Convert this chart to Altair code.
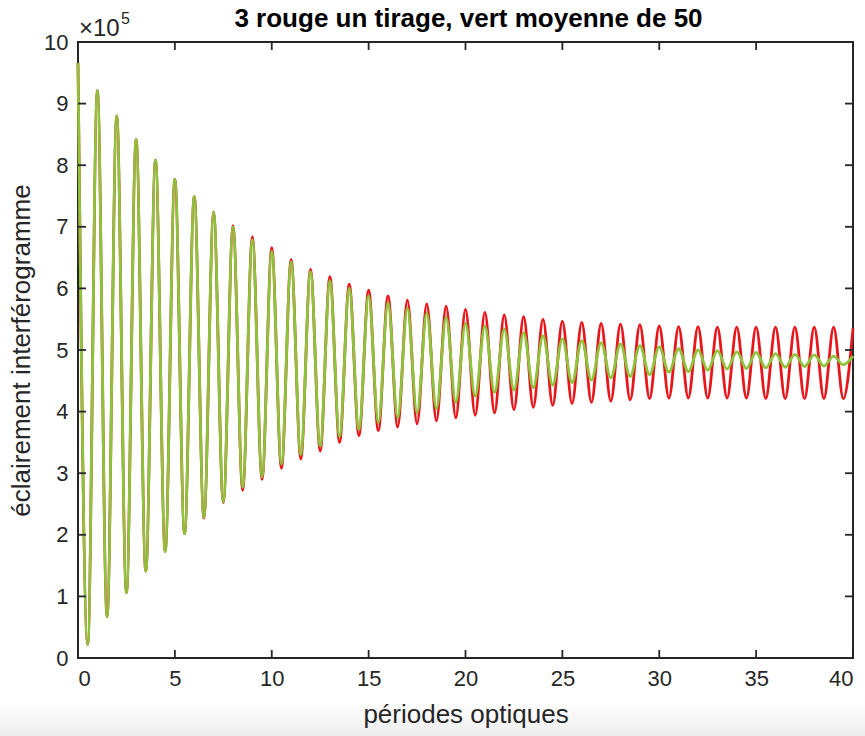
import altair as alt
import pandas as pd

# ---- data (values in units of 1e5) ----
peak_x = list(range(0, 41))
trough_x = [i + 0.5 for i in range(0, 40)]

red_peaks = [9.66, 9.21, 8.80, 8.42, 8.08, 7.77, 7.49, 7.24, 7.02, 6.84,
             6.66, 6.47, 6.31, 6.19, 6.07, 5.97, 5.88, 5.81, 5.75, 5.71,
             5.66, 5.61, 5.57, 5.54, 5.50, 5.47, 5.45, 5.43, 5.42, 5.41,
             5.39, 5.38, 5.38, 5.37, 5.37, 5.37, 5.37, 5.37, 5.37, 5.37,
             5.35]
red_troughs = [0.22, 0.67, 1.06, 1.41, 1.73, 2.02, 2.27, 2.52, 2.72, 2.90,
               3.08, 3.23, 3.36, 3.50, 3.61, 3.69, 3.75, 3.80, 3.85, 3.90,
               3.94, 3.98, 4.03, 4.07, 4.10, 4.13, 4.15, 4.17, 4.19, 4.21,
               4.22, 4.22, 4.22, 4.22, 4.22, 4.21, 4.21, 4.21, 4.21, 4.21]

green_peaks = [9.66, 9.21, 8.80, 8.42, 8.08, 7.77, 7.49, 7.24, 7.00, 6.79,
               6.60, 6.43, 6.27, 6.12, 6.00, 5.88, 5.77, 5.68, 5.60, 5.53,
               5.43, 5.39, 5.34, 5.28, 5.23, 5.18, 5.15, 5.12, 5.10, 5.07,
               5.05, 5.02, 5.00, 4.99, 4.97, 4.96, 4.94, 4.93, 4.92, 4.90,
               4.90]
green_troughs = [0.22, 0.67, 1.06, 1.41, 1.73, 2.02, 2.28, 2.53, 2.77, 2.94,
                 3.15, 3.30, 3.44, 3.60, 3.71, 3.82, 3.90, 3.98, 4.05, 4.15,
                 4.25, 4.31, 4.35, 4.39, 4.43, 4.47, 4.51, 4.55, 4.57, 4.60,
                 4.64, 4.65, 4.67, 4.69, 4.70, 4.71, 4.72, 4.73, 4.74, 4.76]

x_ticks = [0, 5, 10, 15, 20, 25, 30, 35, 40]
y_ticks = [0, 1, 2, 3, 4, 5, 6, 7, 8, 9, 10]

TITLE = "3 rouge un tirage, vert moyenne de 50"
X_TITLE = "périodes optiques"
Y_TITLE = "éclairement interférogramme"
EXP_BASE = "×10"
EXP_POW = "5"

# ---- tables ----
def series(px, pv, tx, tv, name):
    d = pd.DataFrame({"x": list(px) + list(tx), "v": list(pv) + list(tv)})
    d["s"] = name
    return d.sort_values("x").reset_index(drop=True)

red_df = series(peak_x, red_peaks, trough_x, red_troughs, "rouge")
green_df = series(peak_x, green_peaks, trough_x, green_troughs, "vert")
xt_df = pd.DataFrame({"t": x_ticks})
yt_df = pd.DataFrame({"t": y_ticks})
one = pd.DataFrame({"k": [0]})

W, H = 775, 616
FONT = "Liberation Sans"
INK = "#262626"
TL = 8  # inward tick length

xscale = alt.Scale(domain=[0, 40], nice=False, zero=False)
yscale = alt.Scale(domain=[0, 10], nice=False, zero=False)

xaxis = alt.Axis(values=x_ticks, format="d", tickSize=0, labelFontSize=22, labelPadding=10,
                 labelColor=INK, grid=False, domain=False, title=X_TITLE,
                 titleFontSize=26, titleFontWeight="normal", titleColor=INK,
                 titlePadding=12, labelFont=FONT, titleFont=FONT, zindex=1)
yaxis = alt.Axis(values=y_ticks, format="d", tickSize=0, labelFontSize=22, labelPadding=10,
                 labelColor=INK, grid=False, domain=False, title=Y_TITLE,
                 titleFontSize=26, titleFontWeight="normal", titleColor=INK,
                 titlePadding=9, labelFont=FONT, titleFont=FONT, zindex=1)

band = alt.Chart(one).mark_rect(
    color=alt.Gradient(gradient="linear",
                       stops=[alt.GradientStop(color="#ffffff", offset=0),
                              alt.GradientStop(color="#ededed", offset=1)],
                       x1=0, x2=0, y1=0, y2=1)
).encode(x=alt.value(-78), x2=alt.value(W + 12), y=alt.value(H + 44), y2=alt.value(H + 78))

red = alt.Chart(red_df).mark_line(color="#e8161b", strokeWidth=2.8, interpolate="monotone").encode(
    x=alt.X("x:Q", scale=xscale, axis=xaxis),
    y=alt.Y("v:Q", scale=yscale, axis=yaxis),
)
green = alt.Chart(green_df).mark_line(color="#8cc43c", strokeWidth=2.8, interpolate="monotone").encode(
    x=alt.X("x:Q", scale=xscale),
    y=alt.Y("v:Q", scale=yscale),
)

tick_style = dict(color=INK, strokeWidth=1.8)
xt_bottom = alt.Chart(xt_df).mark_rule(**tick_style).encode(
    x=alt.X("t:Q", scale=xscale), y=alt.value(H - TL), y2=alt.value(H))
xt_top = alt.Chart(xt_df).mark_rule(**tick_style).encode(
    x=alt.X("t:Q", scale=xscale), y=alt.value(0), y2=alt.value(TL))
yt_left = alt.Chart(yt_df).mark_rule(**tick_style).encode(
    y=alt.Y("t:Q", scale=yscale), x=alt.value(0), x2=alt.value(TL))
yt_right = alt.Chart(yt_df).mark_rule(**tick_style).encode(
    y=alt.Y("t:Q", scale=yscale), x=alt.value(W - TL), x2=alt.value(W))

exp_base = alt.Chart(one).mark_text(
    text=EXP_BASE, font=FONT, fontSize=24, color=INK, align="left", baseline="alphabetic"
).encode(x=alt.value(1), y=alt.value(-6))
exp_sup = alt.Chart(one).mark_text(
    text=EXP_POW, font=FONT, fontSize=16, color=INK, align="left", baseline="alphabetic"
).encode(x=alt.value(43), y=alt.value(-18))

title = alt.Chart(one).mark_text(
    text=TITLE, font=FONT, fontSize=26, fontWeight="bold", color="#000000",
    align="center", baseline="alphabetic"
).encode(x=alt.value(W / 2 + 3), y=alt.value(-15))

chart = alt.layer(band, red, green, xt_bottom, xt_top, yt_left, yt_right,
                  exp_base, exp_sup, title).properties(
    width=W, height=H,
    autosize=alt.AutoSizeParams(type="none"),
    padding={"left": 78, "top": 42, "right": 12, "bottom": 78},
    background="white",
).configure_view(stroke=INK, strokeWidth=2)

chart.save("out.html", embed_options={"renderer": "svg", "actions": False})
